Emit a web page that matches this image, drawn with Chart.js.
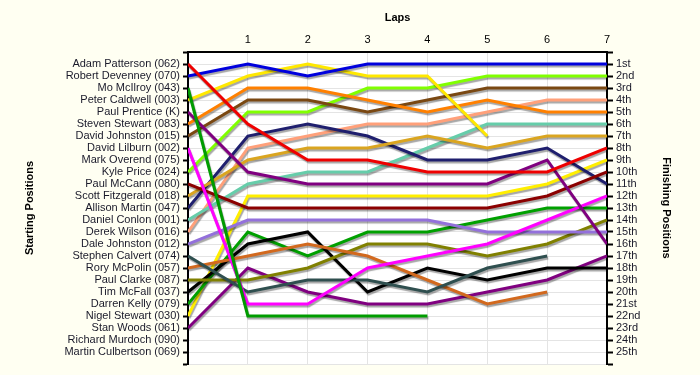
<!DOCTYPE html>
<html>
<head>
<meta charset="utf-8">
<script src="https://cdn.jsdelivr.net/npm/chart.js@4.4.1/dist/chart.umd.min.js"></script>
<style>
  html, body { margin: 0; padding: 0; background: #fffff2; }
  #wrap { width: 700px; height: 375px; }
</style>
</head>
<body>
<div id="wrap"><canvas id="c" width="700" height="375"></canvas></div>
<script>
// ---- data ----
const laps = [0, 1, 2, 3, 4, 5, 6, 7];
const startNames = [
  "Adam Patterson (062)", "Robert Devenney (070)", "Mo McIlroy (043)", "Peter Caldwell (003)",
  "Paul Prentice (K)", "Steven Stewart (083)", "David Johnston (015)", "David Lilburn (002)",
  "Mark Overend (075)", "Kyle Price (024)", "Paul McCann (080)", "Scott Fitzgerald (018)",
  "Allison Martin (047)", "Daniel Conlon (001)", "Derek Wilson (016)", "Dale Johnston (012)",
  "Stephen Calvert (074)", "Rory McPolin (057)", "Paul Clarke (087)", "Tim McFall (037)",
  "Darren Kelly (079)", "Nigel Stewart (030)", "Stan Woods (061)", "Richard Murdoch (090)",
  "Martin Culbertson (069)"
];
const finishLabels = [
  "1st", "2nd", "3rd", "4th", "5th", "6th", "7th", "8th", "9th", "10th", "11th", "12th", "13th",
  "14th", "15th", "16th", "17th", "18th", "19th", "20th", "21st", "22nd", "23rd", "24th", "25th"
];
// positions per lap (lap 0 = starting position)
const adamPatterson    = [1, 6, 9, 9, 10, 10, 10, 8];
const robertDevenney   = [2, 1, 2, 1, 1, 1, 1, 1];
const moMcIlroy        = [3, 22, 22, 22, 22];
const peterCaldwell    = [4, 2, 1, 2, 2, 7];
const paulPrentice     = [5, 10, 11, 11, 11, 11, 9, 16];
const stevenStewart    = [6, 3, 3, 4, 5, 4, 5, 5];
const davidJohnston    = [7, 4, 4, 5, 4, 3, 3, 3];
const davidLilburn     = [8, 21, 21, 18, 17, 16, 14, 12];
const kylePrice        = [10, 5, 5, 3, 3, 2, 2, 2];
const paulMcCann       = [11, 13, 13, 13, 13, 13, 12, 10];
const scottFitzgerald  = [12, 9, 8, 8, 7, 8, 7, 7];
const allisonMartin    = [13, 7, 6, 7, 9, 9, 8, 11];
const danielConlon     = [14, 11, 10, 10, 8, 6, 6, 6];
const derekWilson      = [15, 8, 7, 6, 6, 5, 4, 4];
const daleJohnston     = [16, 14, 14, 14, 14, 15, 15, 15];
const stephenCalvert   = [17, 20, 19, 19, 20, 18, 17];
const roryMcPolin      = [18, 17, 16, 17, 19, 21, 20];
const paulClarke       = [19, 19, 18, 16, 16, 17, 16, 14];
const timMcFall        = [20, 16, 15, 20, 18, 19, 18, 18];
const darrenKelly      = [21, 15, 17, 15, 15, 14, 13, 13];
const nigelStewart     = [22, 12, 12, 12, 12, 12, 11, 9];
const stanWoods        = [23, 18, 20, 21, 21, 20, 19, 17];

const seriesList = [
  [startNames[0], adamPatterson],
  [startNames[1], robertDevenney],
  [startNames[2], moMcIlroy],
  [startNames[3], peterCaldwell],
  [startNames[4], paulPrentice],
  [startNames[5], stevenStewart],
  [startNames[6], davidJohnston],
  [startNames[7], davidLilburn],
  [startNames[9], kylePrice],
  [startNames[10], paulMcCann],
  [startNames[11], scottFitzgerald],
  [startNames[12], allisonMartin],
  [startNames[13], danielConlon],
  [startNames[14], derekWilson],
  [startNames[15], daleJohnston],
  [startNames[16], stephenCalvert],
  [startNames[17], roryMcPolin],
  [startNames[18], paulClarke],
  [startNames[19], timMcFall],
  [startNames[20], darrenKelly],
  [startNames[21], nigelStewart],
  [startNames[22], stanWoods]
];
// ---- styles ----
const colors = [
  "#ee0000", "#0000dd", "#009c00", "#ffe800", "#800080", "#ff8000", "#7a4812", "#ff00ff",
  "#80ff00", "#8b0000", "#daa520", "#1f1f6e", "#66cdaa", "#ffa07a", "#9370db", "#2f4f4f",
  "#d2691e", "#808000", "#000000", "#00a000", "#ffee00", "#800080"
];

const datasets = seriesList.map((s, i) => ({
  label: s[0],
  data: s[1].map((p, k) => ({ x: laps[k], y: p })),
  borderColor: colors[i],
  backgroundColor: colors[i],
  borderWidth: 3,
  pointRadius: 0,
  tension: 0,
  fill: false
}));

const bgPlugin = {
  id: 'bg',
  beforeDraw(chart) {
    const { ctx, chartArea: a } = chart;
    ctx.save();
    ctx.fillStyle = '#fffff2';
    ctx.fillRect(0, 0, chart.width, chart.height);
    ctx.fillStyle = '#ffffff';
    ctx.fillRect(a.left, a.top, a.right - a.left, a.bottom - a.top);
    ctx.restore();
  },
  beforeDatasetDraw(chart) {
    const ctx = chart.ctx;
    ctx.save();
    ctx.shadowColor = 'rgba(0,0,0,0.35)';
    ctx.shadowOffsetX = 1;
    ctx.shadowOffsetY = 2;
    ctx.shadowBlur = 1;
  },
  afterDatasetDraw(chart) {
    chart.ctx.restore();
  }
};

const tickFont = { family: "'Liberation Sans', Arial, sans-serif", size: 11 };
const titleFont = { family: "'Liberation Sans', Arial, sans-serif", size: 11, weight: 'bold' };

new Chart(document.getElementById('c'), {
  type: 'line',
  data: { datasets },
  plugins: [bgPlugin],
  options: {
    responsive: false,
    animation: false,
    layout: { padding: { left: 0, right: 0, top: 0, bottom: 11 } },
    plugins: { legend: { display: false }, tooltip: { enabled: false } },
    scales: {
      x: {
        type: 'linear', position: 'top', min: 0, max: 7,
        afterFit(s) { s.height = 52; },
        ticks: { stepSize: 1, autoSkip: false, padding: 5, color: '#000', font: tickFont,
                 callback: v => (v === 0 ? '' : String(v)) },
        grid: { color: '#e4e4e4', lineWidth: 1, drawTicks: false },
        border: { color: '#000', width: 2 },
        title: { display: true, text: 'Laps', color: '#000', font: titleFont, padding: { top: 11, bottom: 0 } }
      },
      y: {
        type: 'linear', position: 'left', reverse: true, min: 0, max: 26,
        afterFit(s) { s.width = 188; },
        afterBuildTicks(s) { s.ticks = Array.from({ length: 27 }, (_, i) => ({ value: i })); },
        ticks: { autoSkip: false, padding: 3, color: '#1a1a2a', font: tickFont,
                 callback: v => startNames[v - 1] || '' },
        grid: { color: '#e4e4e4', lineWidth: 1, tickColor: '#000', tickLength: 5, tickWidth: 2 },
        border: { color: '#000', width: 2 },
        title: { display: true, text: 'Starting Positions', color: '#000', font: titleFont, padding: { top: 23, bottom: 0 } }
      },
      y2: {
        type: 'linear', position: 'right', reverse: true, min: 0, max: 26,
        afterFit(s) { s.width = 93; },
        afterBuildTicks(s) { s.ticks = Array.from({ length: 27 }, (_, i) => ({ value: i })); },
        ticks: { autoSkip: false, padding: 3, color: '#1a1a2a', font: tickFont,
                 callback: v => finishLabels[v - 1] || '' },
        grid: { drawOnChartArea: false, tickColor: '#000', tickLength: 6, tickWidth: 2 },
        border: { color: '#000', width: 2 },
        title: { display: true, text: 'Finishing Positions', color: '#000', font: titleFont, padding: { top: 27, bottom: 0 } }
      }
    }
  }
});
</script>
</body>
</html>
